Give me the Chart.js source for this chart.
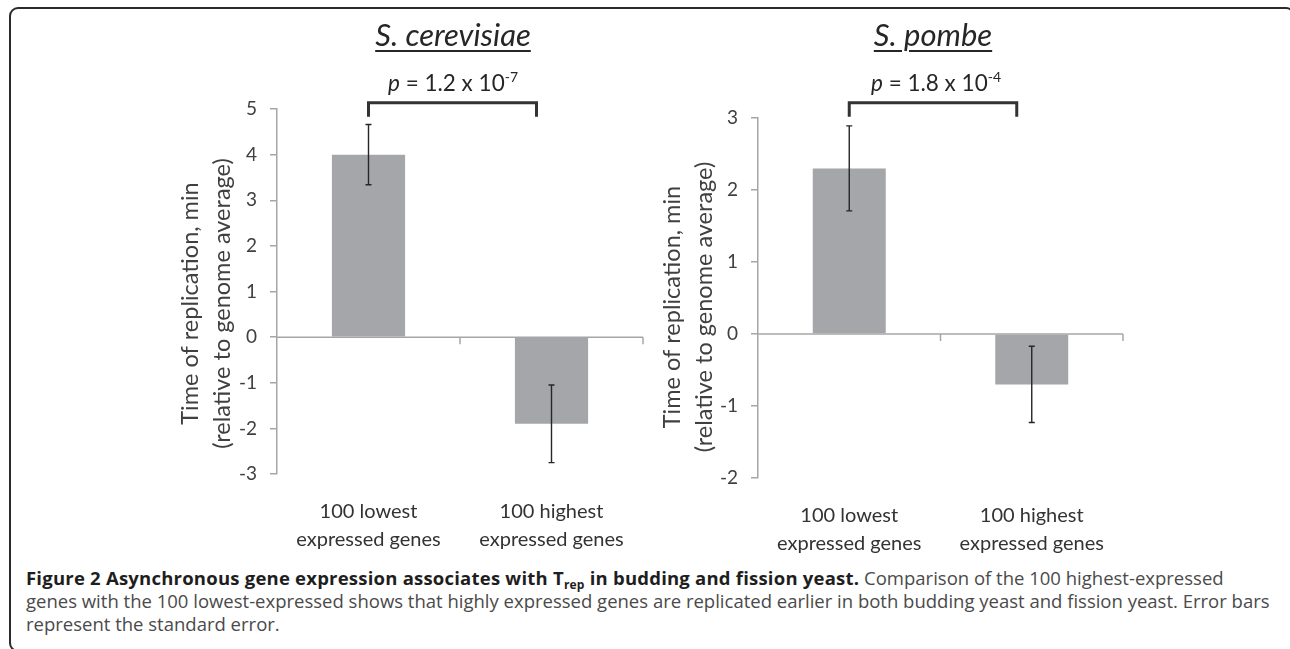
<!DOCTYPE html>
<html>
<head>
<meta charset="utf-8">
<script src="https://cdn.jsdelivr.net/npm/chart.js@4"></script>
<style>
  html, body { margin: 0; padding: 0; background: #fff; }
  #page { position: relative; width: 1290px; height: 649px; overflow: hidden; font-family: Lato, sans-serif; }
  .frame { position: absolute; left: 9px; top: 7px; width: 1286px; height: 645px; box-sizing: border-box;
           border: 2px solid #2b2b2b; border-radius: 9px; }
  .wrap { position: absolute; top: 0; }
  .species { position: absolute; top: 19px; font: italic 31px Lato, sans-serif; line-height: 31px; color: #262626;
             text-decoration: underline; text-decoration-thickness: 2px; text-underline-offset: 4px;
             transform: translateX(-50%); white-space: nowrap; }
  .pval { position: absolute; top: 72px; font: 22.5px Lato, sans-serif; line-height: 22.5px; color: #262626;
          transform: translateX(-50%); white-space: nowrap; }
  .pval sup { font-size: 14px; line-height: 0; vertical-align: 9px; }
  .caption { position: absolute; left: 26px; top: 566px; font-family: "Open Sans", sans-serif; font-size: 18.5px;
             line-height: 23px; color: #4a4a4a; white-space: nowrap; }
  .caption b { color: #1e1e1e; letter-spacing: 0.22px; }
  .caption sub { font-size: 12px; line-height: 0; vertical-align: -4px; }
</style>
</head>
<body>
<div id="page">
  <div class="frame"></div>
  <div class="wrap" style="left:0px"><canvas id="cerevisiaeChart" width="660" height="560"></canvas></div>
  <div class="wrap" style="left:640px"><canvas id="pombeChart" width="650" height="560"></canvas></div>

  <div class="species" style="left:453px">S. cerevisiae</div>
  <div class="species" style="left:933px">S. pombe</div>
  <div class="pval" style="left:453px"><i>p</i> = 1.2 x 10<sup>-7</sup></div>
  <div class="pval" style="left:936px"><i>p</i> = 1.8 x 10<sup>-4</sup></div>

  <div class="caption">
    <b>Figure 2 Asynchronous gene expression associates with T<sub>rep</sub> in budding and fission yeast.</b> Comparison of the 100 highest-expressed<br>
    genes with the 100 lowest-expressed shows that highly expressed genes are replicated earlier in both budding yeast and fission yeast. Error bars<br>
    represent the standard error.
  </div>
</div>

<script>
    // values
    var categories = [['100 lowest', 'expressed genes'], ['100 highest', 'expressed genes']];
    var cerevisiaeMeans = [4.0, -1.9];
    var cerevisiaeErrors = [0.66, 0.85];
    var pombeMeans = [2.3, -0.7];
    var pombeErrors = [0.59, 0.53];
    var yTitle = ['Time of replication, min', '(relative to genome average)'];

    var axisGrey = '#a6a6a6';
    var barGrey = '#a5a6a9';
    var inkColor = '#262626';

    // trailing spaces nudge the rotated title a little lower than the plot centre, as in the figure
    function shiftedTitle(spaces) {
        var pad = new Array(spaces + 1).join(' ');
        return yTitle.map(function (line) { return line + pad; });
    }

    // zero line with category ticks, error bars and the p-value bracket
    var markupPlugin = {
        id: 'markup',
        beforeDatasetsDraw: function (chart) {
            var ctx = chart.ctx, area = chart.chartArea, x = chart.scales.x, y = chart.scales.y;
            var y0 = y.getPixelForValue(0);
            ctx.save();
            ctx.strokeStyle = axisGrey;
            ctx.lineWidth = 1.5;
            ctx.beginPath();
            ctx.moveTo(area.left, y0);
            ctx.lineTo(area.right, y0);
            for (var i = 0; i < x.ticks.length; i++) {
                var edge = i < x.ticks.length - 1 ? (x.getPixelForTick(i) + x.getPixelForTick(i + 1)) / 2 : area.right;
                ctx.moveTo(edge, y0);
                ctx.lineTo(edge, y0 + 7);
            }
            ctx.stroke();
            ctx.restore();
        },
        afterDatasetsDraw: function (chart, args, opts) {
            var ctx = chart.ctx, y = chart.scales.y;
            var ds = chart.data.datasets[0];
            var meta = chart.getDatasetMeta(0);
            ctx.save();
            ctx.strokeStyle = inkColor;
            ctx.lineWidth = 1.4;
            meta.data.forEach(function (bar, i) {
                var hi = y.getPixelForValue(ds.data[i] + ds.errors[i]);
                var lo = y.getPixelForValue(ds.data[i] - ds.errors[i]);
                ctx.beginPath();
                ctx.moveTo(bar.x, hi); ctx.lineTo(bar.x, lo);
                ctx.moveTo(bar.x - 3, hi); ctx.lineTo(bar.x + 3, hi);
                ctx.moveTo(bar.x - 3, lo); ctx.lineTo(bar.x + 3, lo);
                ctx.stroke();
            });
            var b = opts.bracket;
            var x1 = meta.data[0].x, x2 = meta.data[1].x - b.inset;
            ctx.strokeStyle = '#333';
            ctx.lineWidth = 3;
            ctx.lineCap = 'butt';
            ctx.lineJoin = 'miter';
            ctx.beginPath();
            ctx.moveTo(x1, b.bottom);
            ctx.lineTo(x1, b.top);
            ctx.lineTo(x2, b.top);
            ctx.lineTo(x2, b.bottom);
            ctx.stroke();
            ctx.restore();
        }
    };

    function makeChart(id, means, errors, yMin, yMax, box) {
        var ctx = document.getElementById(id).getContext('2d');
        return new Chart(ctx, {
            type: 'bar',
            data: {
                labels: categories,
                datasets: [{
                    data: means,
                    errors: errors,
                    backgroundColor: barGrey,
                    borderWidth: 0,
                    categoryPercentage: 1,
                    barPercentage: 0.4
                }]
            },
            options: {
                responsive: false,
                animation: false,
                layout: { padding: { left: 0, right: box.right, top: box.top, bottom: 0 } },
                scales: {
                    x: {
                        grid: { display: false, drawTicks: false, tickLength: 0 },
                        border: { display: false },
                        ticks: {
                            color: '#333',
                            padding: 24,
                            maxRotation: 0,
                            font: { family: 'Lato', size: 20, lineHeight: 1.4 }
                        },
                        afterFit: function (scale) { scale.height = box.xHeight; }
                    },
                    y: {
                        min: yMin,
                        max: yMax,
                        grid: { drawOnChartArea: false, drawTicks: true, tickLength: 7, color: axisGrey, lineWidth: 1.5 },
                        border: { display: true, color: axisGrey, width: 1.5 },
                        ticks: {
                            stepSize: 1,
                            color: '#404040',
                            padding: 13,
                            font: { family: 'Lato', size: 19 }
                        },
                        title: {
                            display: true,
                            text: shiftedTitle(box.titleShift),
                            color: '#404040',
                            padding: { top: box.titlePad, bottom: 0 },
                            font: { family: 'Lato', size: 23.5, lineHeight: 1.36 }
                        },
                        afterFit: function (scale) { scale.width = box.yWidth; }
                    }
                },
                plugins: {
                    legend: { display: false },
                    tooltip: { enabled: false },
                    markup: { bracket: { top: 102.7, bottom: 116.7, inset: 15 } }
                }
            },
            plugins: [markupPlugin]
        });
    }

    var cerevisiaeChart = makeChart('cerevisiaeChart', cerevisiaeMeans, cerevisiaeErrors, -3, 5,
        { right: 17, top: 109, xHeight: 86, yWidth: 277, titlePad: 174, titleShift: 4 });
    var pombeChart = makeChart('pombeChart', pombeMeans, pombeErrors, -2, 3,
        { right: 167, top: 118, xHeight: 82, yWidth: 118, titlePad: 16, titleShift: 3 });
</script>
</body>
</html>
